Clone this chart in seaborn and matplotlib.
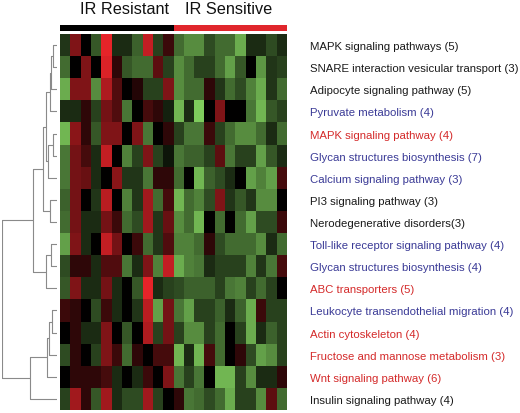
import numpy as np
import pandas as pd
import matplotlib
matplotlib.use("Agg")
import matplotlib.pyplot as plt
from matplotlib.colors import LinearSegmentedColormap, ListedColormap
import seaborn as sns

sns.set_theme(style="white")
plt.rcParams['font.family'] = ['Liberation Sans', 'DejaVu Sans']

pathways = [
    "MAPK signaling pathways (5)",
    "SNARE interaction vesicular transport (3)",
    "Adipocyte signaling pathway (5)",
    "Pyruvate metabolism (4)",
    "MAPK signaling pathway (4)",
    "Glycan structures biosynthesis (7)",
    "Calcium signaling pathway (3)",
    "PI3 signaling pathway (3)",
    "Nerodegenerative disorders(3)",
    "Toll-like receptor signaling pathway (4)",
    "Glycan structures biosynthesis (4)",
    "ABC transporters (5)",
    "Leukocyte transendothelial migration (4)",
    "Actin cytoskeleton (4)",
    "Fructose and mannose metabolism (3)",
    "Wnt signaling pathway (6)",
    "Insulin signaling pathway (4)",
]
label_groups = ["k", "k", "k", "b", "r", "b", "b", "k", "k",
                "b", "b", "r", "b", "r", "r", "r", "k"]

groups = ["IR Resistant"] * 11 + ["IR Sensitive"] * 11
samples = [f"S{i+1}" for i in range(22)]

row01 = [-0.25, 0.55, 0.0, -0.4, 1.0, -0.2, -0.2, -0.45, 0.85, -0.3, 0.25, -0.5, -0.65, -0.65, -0.35, -0.5, -0.5, -0.8, -0.2, -0.2, -0.35, -0.2]
row02 = [-0.5, 0.0, 0.55, 0.0, 0.95, 0.2, -0.4, -0.5, -0.5, 0.4, -0.3, -0.65, -0.5, -0.3, -0.3, -0.5, -0.75, -0.4, 0.0, -0.7, -0.25, -0.3]
row03 = [-0.8, 0.55, 0.55, -0.65, 0.75, 0.35, 0.0, 0.15, -0.3, -0.3, 0.55, -0.65, -0.5, -0.5, 0.2, -0.25, -0.5, -0.35, -0.6, -0.8, -0.25, -0.5]
row04 = [-0.2, -0.2, 0.2, -0.3, 0.5, 0.35, -0.55, 0.0, 0.3, 0.2, -0.15, -0.85, -0.2, -0.95, 0.0, 0.55, 0.0, 0.0, -0.55, -0.85, -0.4, -0.3]
row05 = [-0.85, 0.6, 0.2, -0.4, 0.55, 0.55, 0.0, 0.55, -0.55, 0.0, 0.2, -0.3, -0.55, -0.55, 0.25, -0.3, -0.5, -0.65, -0.65, -0.5, -0.2, -0.5]
row06 = [-0.55, 0.5, 0.3, -0.2, 0.85, 0.0, -0.6, -0.3, 0.55, -0.3, -0.1, -0.55, -0.45, -0.45, -0.3, 0.4, -0.55, -0.3, -0.3, -0.75, -0.4, -0.2]
row07 = [-0.55, 0.5, 0.45, -0.2, 0.0, 0.6, -0.25, -0.25, -0.55, 0.2, 0.2, -0.5, 0.0, -0.85, -0.45, -0.35, -0.2, 0.0, -0.75, -0.6, -0.75, 0.3]
row08 = [-0.45, 0.5, 0.0, -0.25, 0.8, 0.0, -0.6, -0.25, 0.7, -0.5, 0.3, -0.85, -0.5, -0.6, -0.35, 0.55, -0.25, -0.4, -0.25, -0.65, -0.65, 0.0]
row09 = [-0.5, 0.5, -0.2, -0.2, 0.5, 0.25, -0.5, -0.35, 0.7, -0.25, 0.45, -0.65, -0.5, -0.85, 0.0, -0.5, 0.0, -0.5, -0.75, -0.35, -0.35, 0.25]
row10 = [-0.75, 0.55, -0.2, 0.0, 0.85, 0.5, 0.0, 0.25, -0.5, -0.25, 0.35, -0.6, -0.6, -0.5, 0.2, -0.35, -0.5, -0.5, -0.5, -0.65, -0.2, -0.5]
row11 = [-0.35, 0.2, 0.2, -0.2, 0.35, 0.35, -0.55, -0.2, 0.55, -0.6, 0.85, -0.8, -0.6, -0.55, -0.2, -0.3, -0.3, -0.3, -0.6, -0.25, -0.55, 0.3]
row12 = [-0.4, 0.55, -0.2, -0.2, 0.5, -0.2, 0.0, -0.4, 1.0, -0.2, -0.3, -0.35, -0.45, -0.45, -0.45, -0.3, -0.55, -0.6, -0.3, -0.5, -0.3, 0.0]
row13 = [0.25, 0.2, 0.0, -0.35, 0.25, -0.2, 0.0, -0.25, 0.8, -0.75, 0.5, -0.55, -0.75, -0.3, -0.3, -0.45, -0.2, -0.45, -0.8, 0.25, -0.3, -0.3]
row14 = [0.0, 0.2, -0.2, -0.2, 0.55, 0.0, -0.4, 0.0, 0.75, -0.3, 0.5, -0.3, -0.65, -0.65, -0.3, -0.5, 0.0, -0.3, -0.8, -0.2, -0.45, -0.3]
row15 = [-0.35, 0.2, 0.0, -0.3, 0.55, 0.25, -0.5, 0.2, 0.0, 0.3, 0.3, -0.85, -0.2, -0.85, 0.3, -0.5, 0.0, 0.2, -0.35, -0.75, -0.65, -0.3]
row16 = [0.0, 0.2, 0.2, 0.2, 0.3, -0.2, 0.0, -0.2, 0.25, 0.0, 0.55, -0.55, -0.3, -0.55, 0.0, -0.85, -0.85, -0.3, -0.65, -0.2, -0.2, 0.2]
row17 = [-0.3, 0.7, 0.2, -0.4, 0.7, -0.2, -0.35, -0.35, 0.7, -0.3, 0.0, 0.2, -0.55, -0.5, -0.35, -0.5, -0.8, -0.3, -0.3, -0.65, 0.4, -0.5]

# dendrogram merges: (child_a, child_b, height); ids >= 17 are earlier merges
merges = [
    (0, 1, 4.3), (17, 2, 5.7), (18, 3, 6.7),
    (4, 5, 4.3), (20, 6, 9.0), (19, 21, 11.7),
    (7, 8, 6.7), (22, 23, 14.0),
    (9, 10, 6.0), (25, 11, 11.7), (24, 26, 25.0),
    (12, 13, 5.0), (28, 14, 7.7), (29, 15, 10.0), (30, 16, 27.7),
    (27, 31, 56.7),
]

values = np.array([row01, row02, row03, row04, row05, row06, row07, row08, row09,
                   row10, row11, row12, row13, row14, row15, row16, row17])
df = pd.DataFrame(values, index=pathways, columns=samples)

W, H = 520, 414
fig = plt.figure(figsize=(W / 100, H / 100), dpi=100)

def ax_px(x0, y0, x1, y1):
    return fig.add_axes([x0 / W, 1 - y1 / H, (x1 - x0) / W, (y1 - y0) / H])

cmap = LinearSegmentedColormap.from_list(
    "gbr", [(0.52, 0.84, 0.38), (0.0, 0.0, 0.0), (0.90, 0.14, 0.16)])

hx0, hx1, hy0, hy1 = 60, 287, 35, 411
ax = ax_px(hx0, hy0, hx1, hy1)
sns.heatmap(df, ax=ax, cmap=cmap, vmin=-1, vmax=1, cbar=False,
            xticklabels=False, yticklabels=True)
ax.yaxis.tick_right()
ax.tick_params(axis="y", length=0, pad=16.5, labelsize=8.2, labelrotation=0)
color_map = {"k": "#1a1a1a", "b": "#3a3a96", "r": "#d42a2a"}
for lab, g in zip(ax.get_yticklabels(), label_groups):
    lab.set_color(color_map[g])
    lab.set_ha("left")
ax.set_xlabel("")
ax.set_ylabel("")

# group bar
gax = ax_px(hx0, 26, hx1, 32)
gcodes = pd.DataFrame([[0 if g == "IR Resistant" else 1 for g in groups]], columns=samples)
sns.heatmap(gcodes, ax=gax, cmap=ListedColormap(["#000000", "#e0262c"]), vmin=0, vmax=1,
            cbar=False, xticklabels=False, yticklabels=False)
gax.set_xlabel("")
gax.set_ylabel("")
n_res = groups.count("IR Resistant")
fig.text(124 / W, 1 - 9 / H, "IR Resistant",
         ha="center", va="center", fontsize=11.7, color="#111111")
fig.text(229 / W, 1 - 9 / H,
         "IR Sensitive", ha="center", va="center", fontsize=11.7, color="#111111")

# dendrogram
dax = ax_px(1.5, hy0, 57, hy1)
n = len(pathways)
pos = {i: i + 0.5 for i in range(n)}
hgt = {i: 0.0 for i in range(n)}
for k, (a, b, h) in enumerate(merges):
    nid = n + k
    for c in (a, b):
        dax.plot([hgt[c], h], [pos[c], pos[c]], color="#8a8a8a", lw=0.8)
    dax.plot([h, h], [pos[a], pos[b]], color="#8a8a8a", lw=0.8)
    pos[nid] = (pos[a] + pos[b]) / 2
    hgt[nid] = h
dax.set_xlim(max(m[2] for m in merges) + 0.2, 0)
dax.set_ylim(n, 0)
dax.axis("off")

fig.savefig("out.png", dpi=100, facecolor="white")
